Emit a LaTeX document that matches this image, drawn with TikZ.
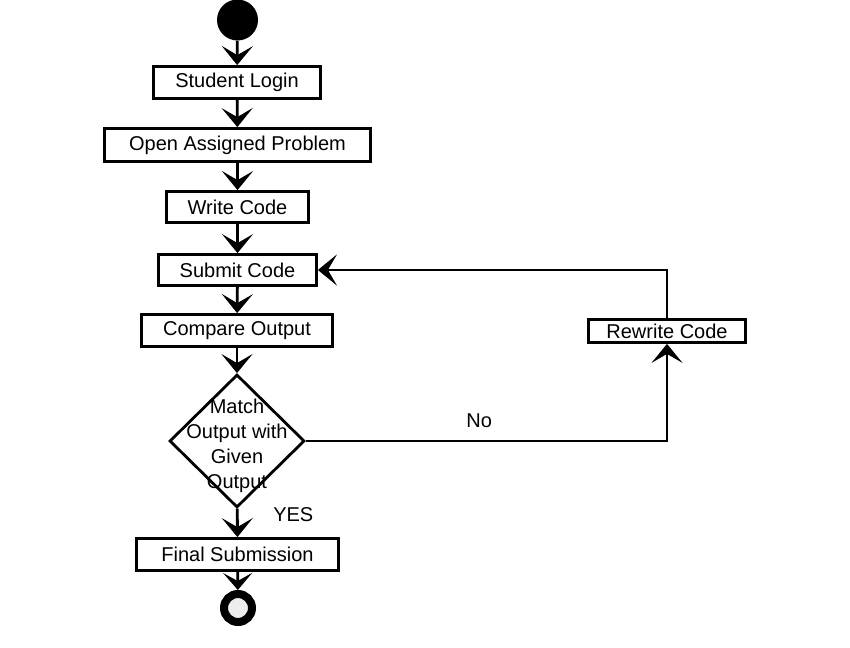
\documentclass[tikz,border=0pt]{standalone}
\usepackage{fontspec}
\setmainfont{Liberation Sans}
\usetikzlibrary{arrows.meta,shapes.geometric}
\begin{document}
\begin{tikzpicture}[x=1pt,y=-1pt,
  every node/.style={font=\fontsize{20}{25}\selectfont},
  act/.style={draw, line width=2.8pt, rectangle, inner sep=0pt, minimum height=32pt},
  dec/.style={draw, line width=2.8pt, diamond, inner sep=0pt, minimum width=135pt, minimum height=133pt},
  flow/.style={line width=2.8pt, -{Stealth[length=19pt,width=31pt,inset=9pt]}},
  endflow/.style={line width=2.8pt, -{Stealth[length=17pt,width=29pt,inset=8pt]}}
]
\useasboundingbox (0,0) rectangle (850,647);
\fill[white] (0,0) rectangle (850,647);

\node[circle, fill=black, minimum size=41pt, inner sep=0pt] (start) at (237.5,20) {};
\node[act, minimum width=167pt] (login) at (237,82.5) {Student Login};
\node[act, minimum width=266pt, minimum height=33pt] (open) at (237.5,145) {Open Assigned Problem};
\node[act, minimum width=142pt, minimum height=31pt] (write) at (237.5,207) {Write Code};
\node[act, minimum width=158pt, minimum height=31pt] (submit) at (237.5,270) {Submit Code};
\node[act, minimum width=191pt] (compare) at (237,330.5) {Compare Output};
\node[dec, label={[align=center, font=\fontsize{20}{25}\selectfont, yshift=-4.5pt]center:Match\\Output with\\Given\\Output}] (match) at (237,441) {};
\node[act, minimum width=202pt] (final) at (237.5,554.5) {Final Submission};
\node[circle, draw=black, line width=8pt, fill=black!7, minimum size=28pt, inner sep=0pt] (stop) at (238,608) {};
\node[act, minimum width=157pt, minimum height=23pt] (rewrite) at (667,331) {Rewrite Code};

\draw[flow] (start) -- (login);
\draw[flow] (login) -- (open);
\draw[flow] (open) -- (write);
\draw[flow] (write) -- (submit);
\draw[flow] (submit) -- (compare);
\draw[flow] (compare) -- (match);
\draw[flow] (match) -- node[pos=0.2, xshift=56pt] {YES} (final);
\draw[endflow] (final) -- (stop);
\draw[flow] (match.east) -| node[pos=0.24, yshift=20pt] {No} (rewrite.south);
\draw[flow] (rewrite.north) |- (submit.east);
\end{tikzpicture}
\end{document}
